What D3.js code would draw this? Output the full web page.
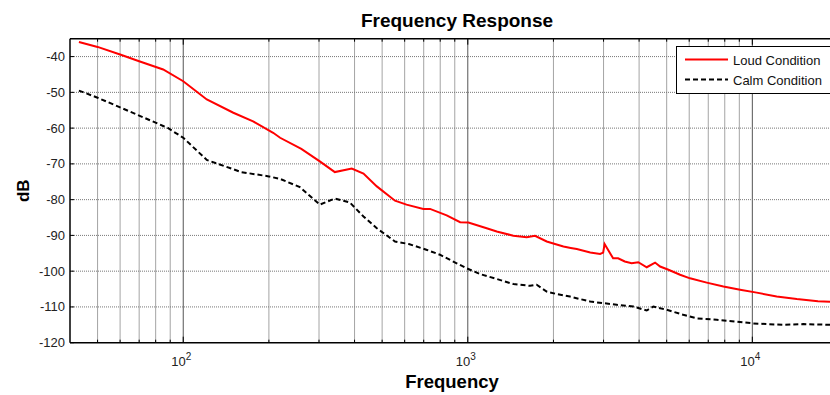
<!DOCTYPE html>
<html>
<head>
<meta charset="utf-8">
<script src="https://cdn.jsdelivr.net/npm/d3@7"></script>
<style>
  body { margin: 0; background: #fff; }
  svg { display: block; font-family: "Liberation Sans", Arial, sans-serif; }
</style>
</head>
<body>
<div id="chart"></div>
<script>
// values
const loudFreq = [43, 50, 60, 70, 85, 100, 121, 150, 176, 207, 219, 260, 302, 341, 391, 430, 479, 555, 609, 698, 737, 843, 940, 1005, 1165, 1264, 1446, 1611, 1723, 1894, 2025, 2168, 2300, 2416, 2693, 2918, 2990, 3026, 3110, 3241, 3375, 3562, 3764, 3974, 4255, 4552, 4741, 5072, 5572, 6041, 6915, 7914, 9057, 10360, 12180, 14330, 17000, 20000];
const loudDb = [-35.9, -37.3, -39.4, -41.3, -43.6, -46.9, -52.0, -55.7, -58.1, -61.3, -62.7, -65.8, -69.3, -72.3, -71.3, -72.7, -76.3, -80.3, -81.4, -82.6, -82.6, -84.4, -86.3, -86.4, -88.0, -88.9, -90.1, -90.5, -90.1, -91.7, -92.4, -93.1, -93.5, -93.8, -94.8, -95.2, -94.8, -92.4, -94.0, -96.4, -96.4, -97.3, -97.8, -97.5, -98.9, -97.6, -98.7, -99.6, -101.0, -102.0, -103.2, -104.3, -105.2, -106.0, -107.1, -107.8, -108.4, -108.7];

const calmFreq = [43, 50, 60, 70, 85, 88, 100, 121, 160, 200, 219, 257, 302, 341, 385, 430, 479, 555, 620, 715, 798, 914, 991, 1104, 1265, 1446, 1655, 1746, 1893, 2052, 2286, 2693, 3337, 3817, 4255, 4490, 5003, 5718, 6378, 7500, 8814, 10080, 11240, 12860, 15110, 18750, 20000];
const calmDb = [-49.5, -51.5, -54.2, -56.5, -59.4, -59.9, -62.7, -68.9, -72.3, -73.5, -74.2, -76.5, -81.4, -79.7, -80.8, -84.7, -88.0, -91.7, -92.4, -94.0, -95.4, -97.8, -99.2, -100.8, -102.2, -103.6, -104.1, -103.8, -105.7, -106.4, -107.1, -108.5, -109.4, -109.9, -111.0, -109.9, -110.8, -112.2, -113.2, -113.6, -114.1, -114.6, -114.8, -115.0, -114.8, -115.0, -115.1];

const yTicks = [-120, -110, -100, -90, -80, -70, -60, -50, -40];
const xMajor = [100, 1000, 10000];

const width = 830, height = 395;
const margin = { top: 38.7, right: -8, bottom: 52.3, left: 70 };

const svg = d3.select('#chart').append('svg').attr('width', width).attr('height', height);

const x = d3.scaleLog().domain([40, 20000]).range([margin.left, width - margin.right]);
const y = d3.scaleLinear().domain([-120, -35]).range([height - margin.bottom, margin.top]);

const x0 = x.range()[0], x1 = x.range()[1];
const y0 = y.range()[0], y1 = y.range()[1];

// every 1..9 multiple inside the domain
const xGrid = [];
for (let p = 1; p <= 4; p++) {
  for (let m = 1; m <= 9; m++) {
    const v = m * Math.pow(10, p);
    if (v > 40 && v < 20000) xGrid.push(v);
  }
}

const grid = svg.append('g');
grid.selectAll('.vgrid').data(xGrid).enter().append('line')
  .attr('x1', d => x(d)).attr('x2', d => x(d))
  .attr('y1', y1).attr('y2', y0)
  .attr('stroke', d => xMajor.includes(d) ? '#555' : '#a4a4a4')
  .attr('stroke-width', 1);

grid.selectAll('.hgrid').data(yTicks.filter(d => d > -120)).enter().append('line')
  .attr('x1', x0).attr('x2', x1)
  .attr('y1', d => y(d)).attr('y2', d => y(d))
  .attr('stroke', '#777').attr('stroke-width', 1)
  .attr('stroke-dasharray', '1,1');

// ticks (inside, matlab style)
const ticks = svg.append('g').attr('stroke', '#000').attr('stroke-width', 1);
xGrid.forEach(v => {
  const len = xMajor.includes(v) ? 6 : 3;
  ticks.append('line').attr('x1', x(v)).attr('x2', x(v)).attr('y1', y0).attr('y2', y0 - len);
  ticks.append('line').attr('x1', x(v)).attr('x2', x(v)).attr('y1', y1).attr('y2', y1 + len);
});
yTicks.forEach(v => {
  ticks.append('line').attr('x1', x0).attr('x2', x0 + 4).attr('y1', y(v)).attr('y2', y(v));
});

// lines
const lineGen = d3.line().x(d => x(d[0])).y(d => y(d[1]));
const loud = loudFreq.map((f, i) => [f, loudDb[i]]);
const calm = calmFreq.map((f, i) => [f, calmDb[i]]);

svg.append('path').datum(calm)
  .attr('d', lineGen).attr('fill', 'none')
  .attr('stroke', '#000').attr('stroke-width', 2)
  .attr('stroke-dasharray', '5,3');

svg.append('path').datum(loud)
  .attr('d', lineGen).attr('fill', 'none')
  .attr('stroke', '#ff0000').attr('stroke-width', 2);

// axes frame
svg.append('line').attr('x1', x0).attr('x2', x0).attr('y1', y1).attr('y2', y0).attr('stroke', '#000').attr('stroke-width', 1.5);
svg.append('line').attr('x1', x0).attr('x2', x1).attr('y1', y0).attr('y2', y0).attr('stroke', '#000').attr('stroke-width', 1.5);
svg.append('line').attr('x1', x0).attr('x2', x1).attr('y1', y1).attr('y2', y1).attr('stroke', '#000').attr('stroke-width', 1.5);

// tick labels
svg.selectAll('.ylab').data(yTicks).enter().append('text')
  .attr('x', x0 - 5).attr('y', d => y(d) + 4.5)
  .attr('text-anchor', 'end').attr('font-size', 13).attr('fill', '#222')
  .text(d => d);

const xl = svg.selectAll('.xlab').data(xMajor).enter().append('text')
  .attr('x', d => x(d) - 2).attr('y', 366)
  .attr('text-anchor', 'middle').attr('font-size', 13).attr('fill', '#222');
xl.append('tspan').text('10');
xl.append('tspan').attr('dy', -6).attr('font-size', 10).text(d => Math.round(Math.log10(d)));

// titles
svg.append('text').attr('x', 457).attr('y', 27)
  .attr('text-anchor', 'middle').attr('font-size', 19).attr('font-weight', 'bold')
  .text('Frequency Response');
svg.append('text').attr('x', 452).attr('y', 388)
  .attr('text-anchor', 'middle').attr('font-size', 18.5).attr('font-weight', 'bold')
  .text('Frequency');
svg.append('text').attr('transform', `translate(29,${(y0 + y1) / 2}) rotate(-90)`)
  .attr('text-anchor', 'middle').attr('font-size', 17).attr('font-weight', 'bold')
  .text('dB');

// legend
const leg = svg.append('g');
leg.append('rect').attr('x', 676.5).attr('y', 46.5).attr('width', 156).attr('height', 47)
  .attr('fill', '#fff').attr('stroke', '#000').attr('stroke-width', 1);
const legItems = [
  { name: 'Loud Condition', color: '#ff0000', dash: null },
  { name: 'Calm Condition', color: '#000', dash: '5,3' }
];
legItems.forEach((d, i) => {
  const ly = 59.5 + i * 20;
  leg.append('line').attr('x1', 685).attr('x2', 728).attr('y1', ly).attr('y2', ly)
    .attr('stroke', d.color).attr('stroke-width', 2)
    .attr('stroke-dasharray', d.dash);
  leg.append('text').attr('x', 733).attr('y', ly + 5)
    .attr('font-size', 13).attr('fill', '#111').text(d.name);
});
</script>
</body>
</html>
